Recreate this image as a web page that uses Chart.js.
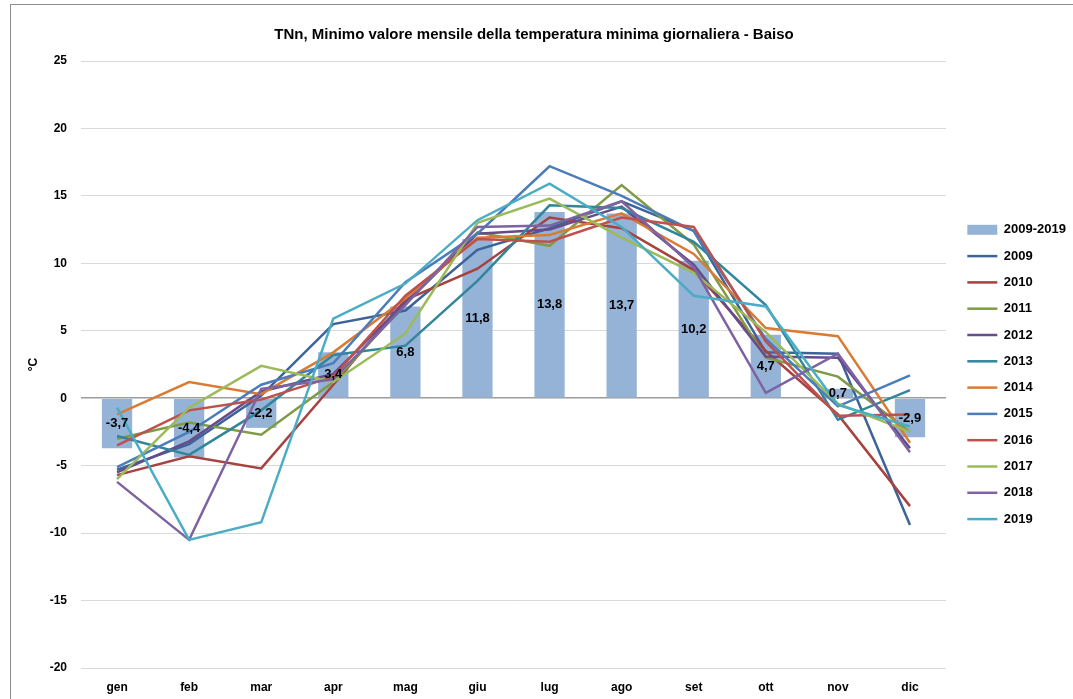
<!DOCTYPE html>
<html>
<head>
<meta charset="utf-8">
<script src="https://cdn.jsdelivr.net/npm/chart.js@4.4.1/dist/chart.umd.min.js"></script>
<style>
  body { margin: 0; background: #fff; }
  #wrap { position: relative; width: 1073px; height: 699px; }
  #frame { position: absolute; left: 10px; top: 4px; right: -2px; bottom: -2px; border-left: 1px solid #8c8c8c; border-top: 1px solid #8c8c8c; pointer-events: none; }
</style>
</head>
<body>
<div id="wrap">
  <canvas id="tnnChart" width="1073" height="699"></canvas>
  <div id="frame"></div>
</div>
<script>
const months = ['gen', 'feb', 'mar', 'apr', 'mag', 'giu', 'lug', 'ago', 'set', 'ott', 'nov', 'dic'];
const yTicks = [25, 20, 15, 10, 5, 0, -5, -10, -15, -20];

const mean0919 = [-3.7, -4.4, -2.2, 3.4, 6.8, 11.8, 13.8, 13.7, 10.2, 4.7, 0.7, -2.9];

const y2009 = [-5.3, -3.4, 0.2, 5.5, 6.5, 11.0, 12.6, 14.6, 12.4, 3.4, 3.3, -9.4];
const y2010 = [-5.7, -4.3, -5.2, 1.0, 7.3, 9.6, 13.4, 12.6, 9.5, 3.5, -1.2, -8.0];
const y2011 = [-3.0, -1.8, -2.7, 1.2, 7.0, 12.3, 11.3, 15.8, 11.4, 3.0, 1.6, -2.5];
const y2012 = [-5.5, -3.2, 0.5, 1.8, 7.1, 12.2, 12.5, 14.2, 9.9, 3.1, 3.0, -3.7];
const y2013 = [-2.8, -4.2, -0.9, 3.2, 3.9, 8.7, 14.3, 14.1, 11.6, 6.9, -1.6, 0.6];
const y2014 = [-1.2, 1.2, 0.3, 3.4, 7.4, 11.9, 12.1, 13.7, 10.7, 5.2, 4.6, -3.3];
const y2015 = [-5.1, -2.5, 1.0, 2.6, 8.6, 12.2, 17.2, 15.0, 12.4, 4.4, -0.6, 1.7];
const y2016 = [-3.5, -0.9, -0.1, 1.6, 7.6, 11.8, 11.6, 13.4, 12.7, 4.2, -1.3, -1.2];
const y2017 = [-6.0, -0.7, 2.4, 1.2, 4.8, 13.0, 14.8, 11.9, 9.3, 4.9, -0.4, -2.5];
const y2018 = [-6.2, -10.5, 0.7, 1.4, 6.9, 12.7, 12.8, 14.6, 9.7, 0.4, 3.3, -4.0];
const y2019 = [-0.7, -10.5, -9.2, 5.9, 8.5, 13.2, 15.9, 12.7, 7.6, 6.8, -0.5, -2.1];

const years = [
  ['2009', y2009, '#3D6399'],
  ['2010', y2010, '#A6423F'],
  ['2011', y2011, '#7F9B46'],
  ['2012', y2012, '#654C8A'],
  ['2013', y2013, '#31869B'],
  ['2014', y2014, '#DA7B34'],
  ['2015', y2015, '#4A7DBA'],
  ['2016', y2016, '#C0504D'],
  ['2017', y2017, '#9BBB59'],
  ['2018', y2018, '#7F62A1'],
  ['2019', y2019, '#4BACC6']
];

const fontFamily = '"Liberation Sans", Arial, sans-serif';

// bar labels drawn in the middle of each bar, decimal comma
const barLabels = {
  id: 'barLabels',
  afterDatasetsDraw(chart) {
    const ctx = chart.ctx;
    const meta = chart.getDatasetMeta(0);
    ctx.save();
    ctx.font = 'bold 13px ' + fontFamily;
    ctx.fillStyle = '#000';
    ctx.textAlign = 'center';
    ctx.textBaseline = 'middle';
    meta.data.forEach((bar, i) => {
      const v = mean0919[i];
      ctx.fillText(v.toFixed(1).replace('.', ','), bar.x, (bar.y + bar.base) / 2);
    });
    ctx.restore();
  }
};

// put the legend column where the original one sits
const legendSpot = {
  id: 'legendSpot',
  afterLayout(chart) {
    chart.legend.top = 210;
    chart.legend.left = 954;
  }
};

const datasets = [{
  type: 'bar',
  label: '2009-2019',
  data: mean0919,
  backgroundColor: '#95B3D7',
  borderWidth: 0,
  barPercentage: 0.42,
  categoryPercentage: 1,
  pointStyle: 'rect',
  order: 1000
}];

years.forEach((y, i) => {
  datasets.push({
    type: 'line',
    label: y[0],
    data: y[1],
    borderColor: y[2],
    backgroundColor: y[2],
    borderWidth: 2.5,
    pointRadius: 0,
    pointStyle: 'line',
    tension: 0,
    order: 100 - i
  });
});

const tnnChart = new Chart(document.getElementById('tnnChart').getContext('2d'), {
  data: {
    labels: months,
    datasets: datasets
  },
  options: {
    responsive: false,
    animation: false,
    layout: {
      padding: { top: 22, left: 0, right: 5, bottom: 0 }
    },
    scales: {
      x: {
        grid: { display: false },
        border: { display: false },
        ticks: {
          color: '#000',
          font: { family: fontFamily, size: 12, weight: 'bold' },
          padding: 4
        },
        afterFit: scale => { scale.height = 31; }
      },
      y: {
        min: -20,
        max: 25,
        ticks: {
          stepSize: 5,
          color: '#000',
          font: { family: fontFamily, size: 12, weight: 'bold' },
          padding: 14
        },
        border: { display: false },
        grid: {
          color: ctx => ctx.tick && ctx.tick.value === 0 ? '#9c9c9c' : '#d9d9d9',
          lineWidth: ctx => ctx.tick && ctx.tick.value === 0 ? 1.5 : 1,
          drawTicks: false
        },
        title: {
          display: true,
          text: '°C',
          color: '#000',
          font: { family: fontFamily, size: 12, weight: 'bold' },
          padding: { top: 26, bottom: 0 }
        },
        afterFit: scale => { scale.width = 81; }
      }
    },
    plugins: {
      title: {
        display: true,
        text: 'TNn, Minimo valore mensile della temperatura minima giornaliera - Baiso',
        color: '#000',
        font: { family: fontFamily, size: 15, weight: 'bold' },
        padding: { top: 4, bottom: 17 }
      },
      legend: {
        position: 'right',
        align: 'start',
        labels: {
          color: '#000',
          font: { family: fontFamily, size: 13, weight: 'bold' },
          usePointStyle: true,
          pointStyleWidth: 30,
          boxHeight: 10,
          padding: 13.3,
          sort: (a, b) => a.datasetIndex - b.datasetIndex
        }
      },
      tooltip: { enabled: false }
    }
  },
  plugins: [barLabels, legendSpot]
});
</script>
</body>
</html>
